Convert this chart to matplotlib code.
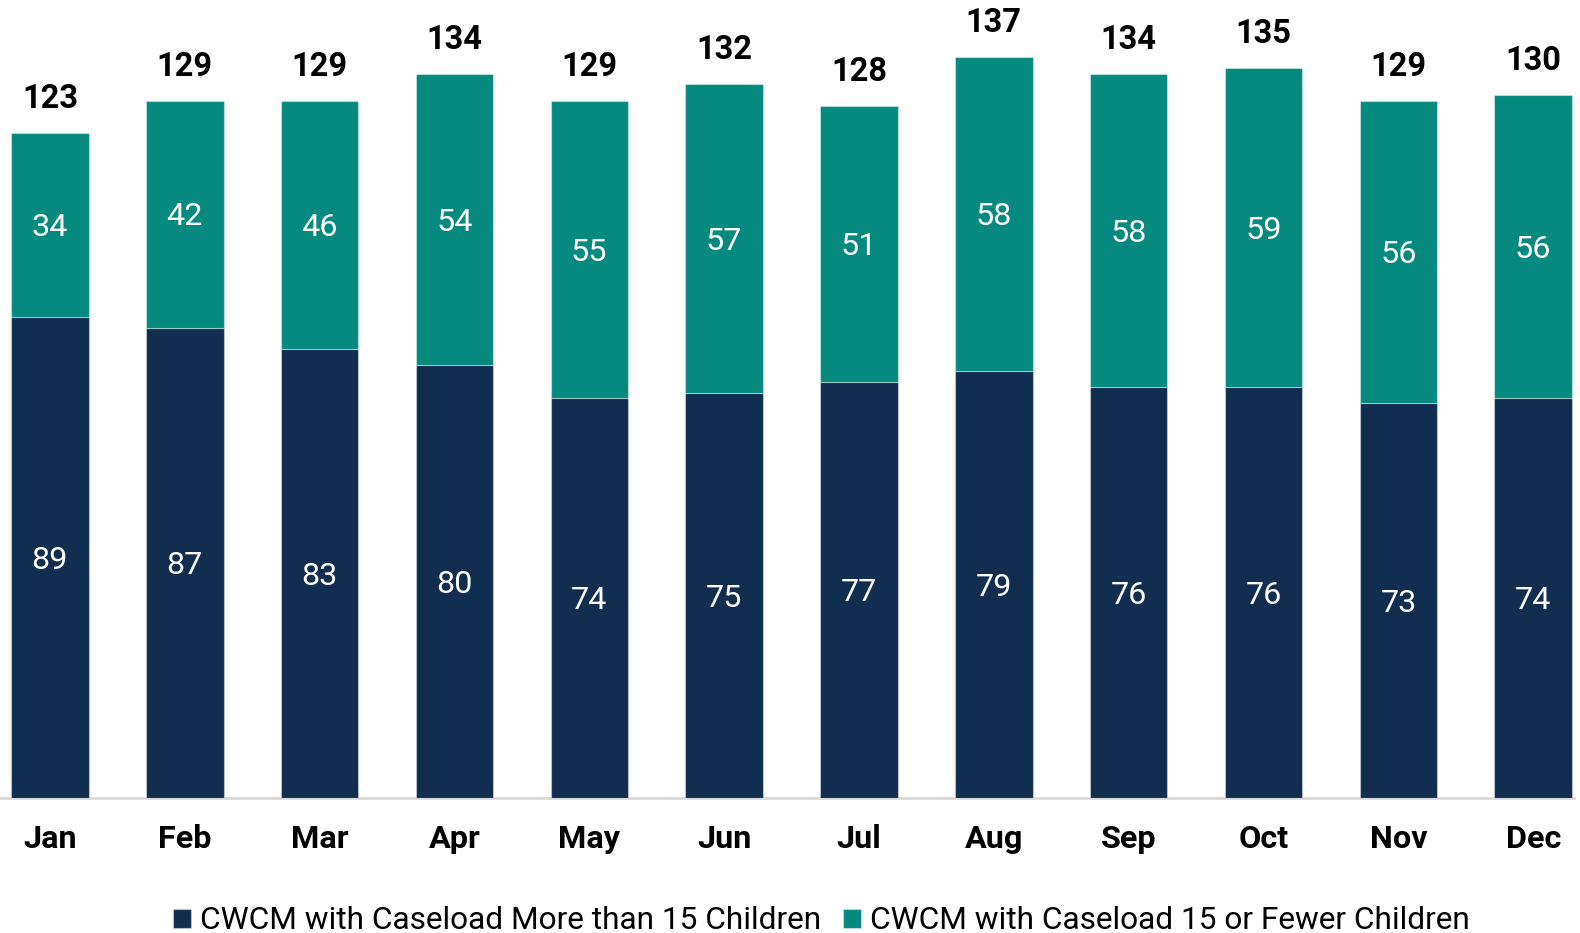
import matplotlib
matplotlib.use("Agg")
import matplotlib.pyplot as plt
import numpy as np

months = ["Jan", "Feb", "Mar", "Apr", "May", "Jun",
          "Jul", "Aug", "Sep", "Oct", "Nov", "Dec"]
more_than_15 = [89, 87, 83, 80, 74, 75, 77, 79, 76, 76, 73, 74]
fewer_15 = [34, 42, 46, 54, 55, 57, 51, 58, 58, 59, 56, 56]
totals = [123, 129, 129, 134, 129, 132, 128, 137, 134, 135, 129, 130]

NAVY = "#112E51"
TEAL = "#068A80"

plt.rcParams["font.family"] = ["Roboto", "DejaVu Sans"]

fig = plt.figure(figsize=(15.8, 9.33), dpi=100)
ax = fig.add_axes([0.0, 0.1447, 0.996, 0.8553])

x = np.arange(len(months))
w = 0.575
b1 = ax.bar(x, more_than_15, w, color=NAVY, edgecolor=(1, 1, 1, 0.4), lw=0.8,
            label="CWCM with Caseload More than 15 Children")
b2 = ax.bar(x, fewer_15, w, bottom=more_than_15, color=TEAL,
            edgecolor=(1, 1, 1, 0.4), lw=0.8,
            label="CWCM with Caseload 15 or Fewer Children")

for i in range(len(months)):
    ax.annotate(str(more_than_15[i]), (x[i], more_than_15[i] / 2),
                xytext=(0, -2), textcoords="offset points", ha="center",
                va="center", color="white", fontsize=23.3)
    ax.annotate(str(fewer_15[i]), (x[i], more_than_15[i] + fewer_15[i] / 2),
                xytext=(0, -2), textcoords="offset points", ha="center",
                va="center", color="white", fontsize=23.3)
    ax.annotate(str(totals[i]), (x[i], more_than_15[i] + fewer_15[i]),
                xytext=(0, 18), textcoords="offset points", ha="center",
                va="baseline", fontsize=23.5, fontweight="bold", color="black")

ax.set_xlim(-0.37, 11.3)
ax.set_ylim(0, 147.6)
ax.axhline(0, color="#d9d9d9", lw=2, zorder=0, clip_on=False)
for s in ax.spines.values():
    s.set_visible(False)
ax.set_yticks([])
ax.set_xticks(x)
ax.set_xticklabels(months, fontsize=23.3, fontweight="bold")
ax.tick_params(axis="x", length=0, pad=19)

fig.legend(handles=[b1, b2], loc="center", bbox_to_anchor=(0.52, 0.013),
           ncol=2, frameon=False, fontsize=22.8, handlelength=0.55,
           handleheight=0.55, handletextpad=0.3, columnspacing=0.7)

fig.savefig("out.png", dpi=100)
